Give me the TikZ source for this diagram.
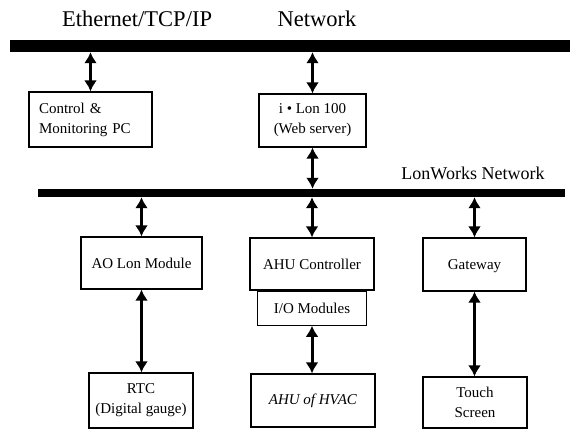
\documentclass[tikz,border=0pt]{standalone}
\usepackage{fontspec}
\setmainfont{Liberation Serif}
\usepackage{tikz}
\usetikzlibrary{arrows.meta}
\usetikzlibrary{positioning}
\tikzset{>=latex}
\tikzstyle{blk} = [rectangle, draw=black, line width=1.2pt, align=center, inner sep=2pt, font=\fontsize{15}{20}\selectfont]
\tikzstyle{bus} = [rectangle, fill=black, inner sep=0pt]
\tikzstyle{lnk} = [{Latex[length=11pt,width=13pt]}-{Latex[length=11pt,width=13pt]}, line width=3pt]
\tikzstyle{ttl} = [font=\fontsize{22.5}{25}\selectfont]

\begin{document}
\begin{tikzpicture}[x=1pt, y=-1pt]
\useasboundingbox (0,0) rectangle (570,430);
% the two networks
\node [bus, minimum width=560pt, minimum height=12pt] (ETH) at (290, 46) {};
\node [bus, minimum width=527pt, minimum height=8pt] (LON) at (301.5, 193) {};
\node [ttl] (ETHL) at (137, 19) {Ethernet/TCP/IP};
\node [ttl] (NETL) at (317, 19) {Network};
\node [ttl, font=\fontsize{18}{20}\selectfont] (LONL) at (473, 173) {LonWorks Network};
% devices
\node [blk, align=left, text width=103pt, inner xsep=10pt, minimum height=55pt] (PC) at (90.5, 119.5) {Control \&\\Monitoring PC};
\node [blk, minimum width=107pt, minimum height=53pt] (ILON) at (312.5, 120.5) {i • Lon 100\\(Web server)};
\node [blk, minimum width=121pt, minimum height=52pt] (AO) at (141.5, 263) {AO Lon Module};
\node [blk, minimum width=124pt, minimum height=52pt] (AHU) at (312, 264) {AHU Controller};
\node [blk, minimum width=109pt, minimum height=34pt, below=0pt of AHU] (IO) {I/O Modules};
\node [blk, minimum width=103pt, minimum height=53pt, text depth=-6pt] (GW) at (474.5, 264.5) {Gateway};
\node [blk, minimum width=104pt, minimum height=55pt] (RTC) at (141, 400.5) {RTC\\(Digital gauge)};
\node [blk, minimum width=124pt, minimum height=53pt] (HVAC) at (313, 400.5) {\textit{AHU of HVAC}};
\node [blk, minimum width=104pt, minimum height=51pt] (TS) at (475, 402.5) {Touch\\Screen};
% links
\draw [lnk] (ETH.south -| PC.north) to (PC.north);
\draw [lnk] (ETH.south -| ILON.north) to (ILON.north);
\draw [lnk] (ILON.south) to (LON.north -| ILON.south);
\draw [lnk] (LON.south -| AO.north) to (AO.north);
\draw [lnk] (LON.south -| AHU.north) to (AHU.north);
\draw [lnk] (LON.south -| GW.north) to (GW.north);
\draw [lnk] (AO.south) to (RTC.north -| AO.south);
\draw [lnk] (IO.south) to (HVAC.north -| IO.south);
\draw [lnk] (GW.south) to (TS.north -| GW.south);
\end{tikzpicture}
\end{document}
